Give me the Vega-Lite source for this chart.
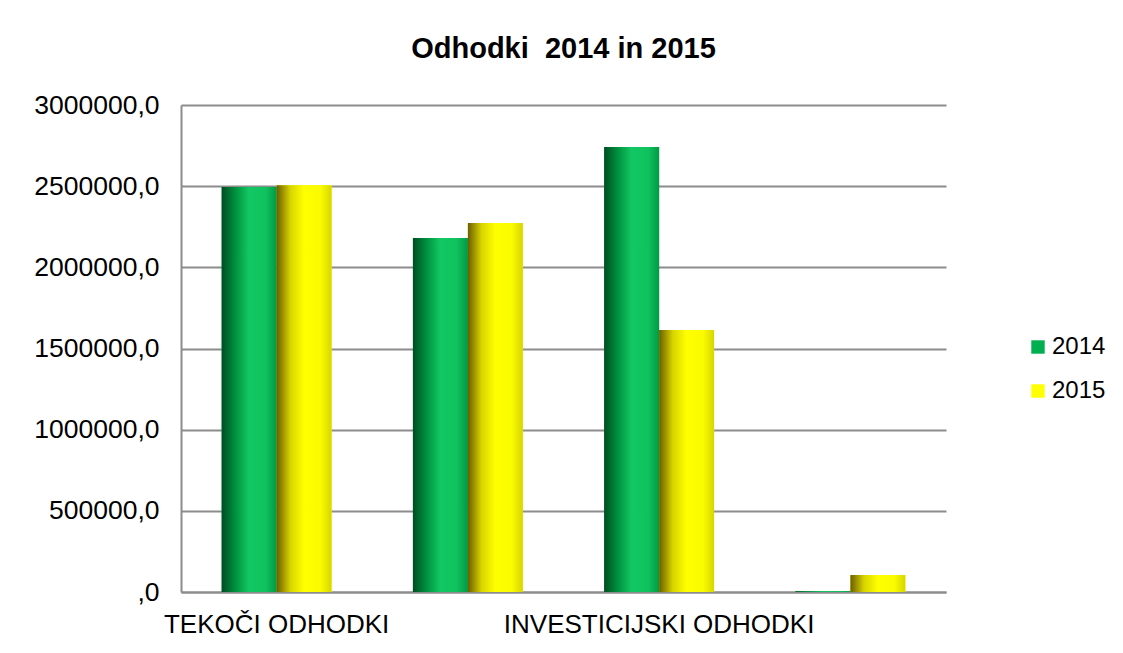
{
  "$schema": "https://vega.github.io/schema/vega-lite/v6.json",
  "width": 765,
  "height": 487,
  "autosize": {"type": "none"},
  "padding": {"left": 181, "top": 105, "right": 177, "bottom": 61},
  "background": "white",
  "config": {
    "font": "Liberation Sans",
    "view": {"stroke": null}
  },
  "title": {
    "text": "Odhodki \u00a02014 in 2015",
    "fontSize": 29,
    "fontWeight": "bold",
    "color": "#000000",
    "anchor": "middle",
    "offset": 28,
    "font": "Liberation Sans"
  },
  "data": {
    "values": [
      {"kategorija": "TEKOČI ODHODKI", "leto": "2014", "znesek": 2495000},
      {"kategorija": "TEKOČI ODHODKI", "leto": "2015", "znesek": 2505000},
      {"kategorija": "TEKOČI TRANSFERI", "leto": "2014", "znesek": 2180000},
      {"kategorija": "TEKOČI TRANSFERI", "leto": "2015", "znesek": 2273000},
      {"kategorija": "INVESTICIJSKI ODHODKI", "leto": "2014", "znesek": 2741000},
      {"kategorija": "INVESTICIJSKI ODHODKI", "leto": "2015", "znesek": 1614000},
      {"kategorija": "INVESTICIJSKI TRANSFERI", "leto": "2014", "znesek": 4000},
      {"kategorija": "INVESTICIJSKI TRANSFERI", "leto": "2015", "znesek": 105000}
    ]
  },
  "encoding": {
    "x": {
      "field": "kategorija",
      "type": "nominal",
      "sort": null,
      "scale": {"paddingInner": 0, "paddingOuter": 0},
      "axis": {
        "title": null,
        "labelAngle": 0,
        "labelFontSize": 26,
        "labelColor": "#000000",
        "labelPadding": 19,
        "ticks": false,
        "domainColor": "#8c8c8c",
        "domainWidth": 2,
        "labelExpr": "(datum.label == 'TEKOČI ODHODKI' || datum.label == 'INVESTICIJSKI ODHODKI') ? datum.label : ''",
        "labelOverlap": false,
        "labelLimit": 400
      }
    },
    "xOffset": {
      "field": "leto",
      "type": "nominal",
      "scale": {"paddingInner": 0, "paddingOuter": 0.74}
    },
    "y": {
      "field": "znesek",
      "type": "quantitative",
      "scale": {"domain": [0, 3000000], "nice": false},
      "axis": {
        "title": null,
        "values": [0, 500000, 1000000, 1500000, 2000000, 2500000, 3000000],
        "labelExpr": "datum.value == 0 ? ',0' : format(datum.value, 'd') + ',0'",
        "labelFontSize": 26.5,
        "labelColor": "#000000",
        "labelPadding": 22,
        "ticks": false,
        "domainColor": "#8c8c8c",
        "domainWidth": 2,
        "gridColor": "#8c8c8c",
        "gridWidth": 2
      }
    }
  },
  "layer": [
    {
      "mark": {"type": "bar"},
      "encoding": {
        "color": {
          "field": "leto",
          "type": "nominal",
          "scale": {"domain": ["2014", "2015"], "range": ["#00b050", "#ffff00"]},
          "legend": {
            "title": null,
            "orient": "none",
            "legendX": 845,
            "legendY": 230,
            "symbolType": "square",
            "symbolSize": 180,
            "symbolStrokeWidth": 0,
            "labelFontSize": 24,
            "labelColor": "#000000",
            "rowPadding": 20,
            "labelOffset": 2
          }
        }
      }
    },
    {
      "transform": [{"filter": "datum.leto == '2014'"}],
      "mark": {
        "type": "bar",
        "fill": {
          "gradient": "linear",
          "x1": 0, "y1": 0, "x2": 1, "y2": 0,
          "stops": [
            {"offset": 0, "color": "#004d22"},
            {"offset": 0.25, "color": "#00913f"},
            {"offset": 0.5, "color": "#12c864"},
            {"offset": 0.8, "color": "#0fc25e"},
            {"offset": 1, "color": "#009a44"}
          ]
        }
      },
      "encoding": {}
    },
    {
      "transform": [{"filter": "datum.leto == '2015'"}],
      "mark": {
        "type": "bar",
        "fill": {
          "gradient": "linear",
          "x1": 0, "y1": 0, "x2": 1, "y2": 0,
          "stops": [
            {"offset": 0, "color": "#6b5e00"},
            {"offset": 0.25, "color": "#d8d400"},
            {"offset": 0.5, "color": "#ffff00"},
            {"offset": 0.8, "color": "#fbfb00"},
            {"offset": 1, "color": "#d6d600"}
          ]
        }
      },
      "encoding": {}
    }
  ]
}
